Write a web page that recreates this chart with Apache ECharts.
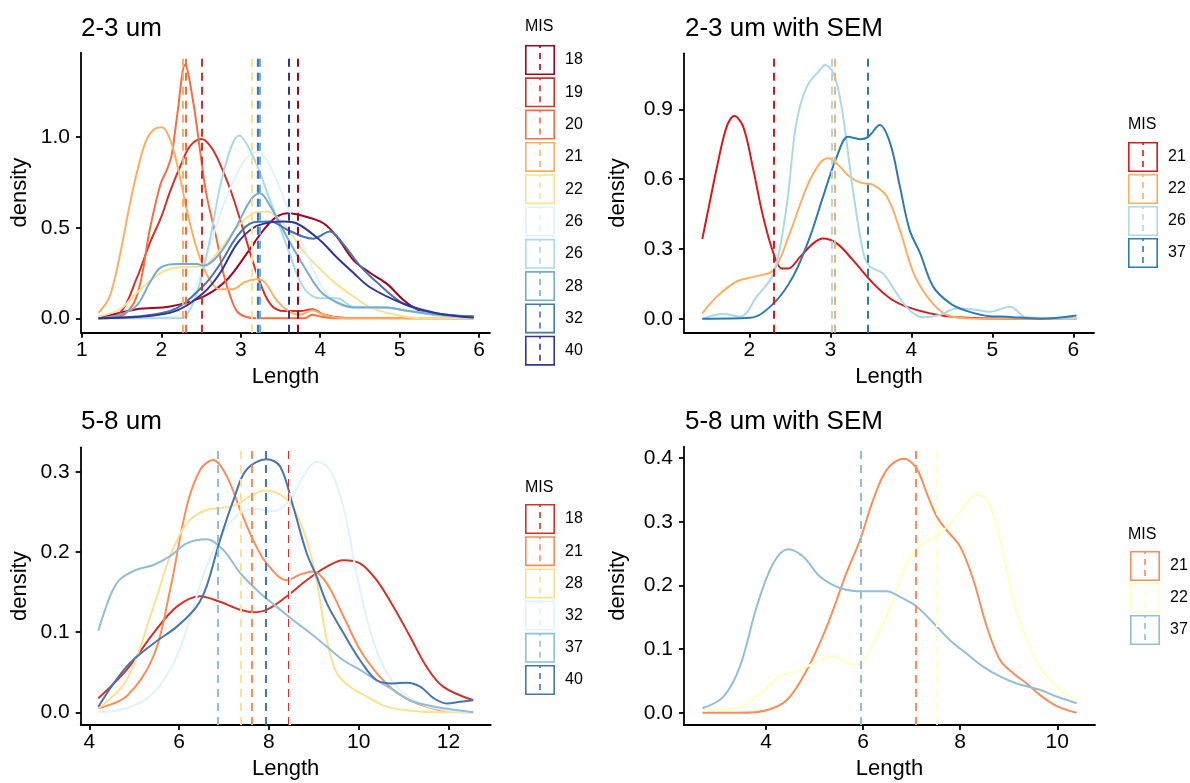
<!DOCTYPE html>
<html><head><meta charset="utf-8">
<script src="https://cdn.jsdelivr.net/npm/echarts@6.0.0/dist/echarts.min.js"></script>
<style>html,body{margin:0;padding:0;background:#fff}#c{width:1190px;height:783px}</style>
</head><body><div id="c"></div>
<script>
// ---------------- DATA ----------------
// Panel A: 2-3 um
const A_groups = ['18','19','20','21','22','26','26','28','32','40'];
const A_means  = [3.72, 2.51, 2.31, 2.27, 3.14, 3.20, 3.22, 3.24, 3.22, 3.60];
const A_18 = [[1.21,0],[1.69,0.05],[2.11,0.065],[2.53,0.12],[2.82,0.21],[3.08,0.36],[3.29,0.49],[3.45,0.56],[3.6,0.58],[3.79,0.565],[4.04,0.525],[4.21,0.45],[4.42,0.32],[4.63,0.25],[4.84,0.19],[5.05,0.10],[5.26,0.04],[5.46,0.02],[5.93,0.01]];
const A_19 = [[1.21,0],[1.48,0.03],[1.69,0.22],[1.86,0.42],[2.0,0.56],[2.11,0.7],[2.24,0.84],[2.36,0.95],[2.51,0.99],[2.62,0.95],[2.70,0.89],[2.87,0.71],[3.03,0.49],[3.2,0.25],[3.37,0.08],[3.55,0.04],[3.75,0.04],[3.9,0.05],[4.05,0.02],[4.3,0.003],[5.93,0]];
const A_20 = [[1.21,0],[1.48,0.01],[1.69,0.12],[1.86,0.5],[1.99,0.74],[2.07,0.82],[2.13,0.9],[2.2,1.12],[2.3,1.40],[2.4,1.2],[2.49,0.92],[2.57,0.68],[2.70,0.43],[2.78,0.25],[2.87,0.12],[2.95,0.04],[3.05,0.01],[3.2,0],[3.8,0],[3.9,0.02],[4.0,0.01],[4.2,0],[5.93,0]];
const A_21 = [[1.21,0.03],[1.35,0.12],[1.48,0.35],[1.6,0.62],[1.69,0.8],[1.80,0.97],[1.9,1.04],[2.01,1.055],[2.1,1.0],[2.2,0.85],[2.32,0.6],[2.45,0.38],[2.6,0.22],[2.74,0.16],[2.9,0.16],[3.05,0.2],[3.2,0.215],[3.3,0.2],[3.45,0.1],[3.6,0.04],[3.75,0.02],[3.9,0.045],[4.04,0.02],[4.2,0.005],[4.5,0],[5.93,0]];
const A_22 = [[1.21,0.01],[1.48,0.05],[1.69,0.14],[1.99,0.25],[2.2,0.28],[2.53,0.29],[2.74,0.38],[2.95,0.5],[3.16,0.58],[3.33,0.59],[3.54,0.52],[3.79,0.37],[4.0,0.27],[4.2,0.19],[4.42,0.12],[4.63,0.06],[4.84,0.03],[5.05,0.01],[5.3,0],[5.93,0]];
const A_26a = [[1.21,0],[2.0,0.005],[2.25,0.02],[2.36,0.08],[2.61,0.40],[2.82,0.67],[3.03,0.86],[3.2,0.92],[3.37,0.84],[3.58,0.62],[3.79,0.40],[4.0,0.19],[4.21,0.08],[4.42,0.06],[4.63,0.06],[5.05,0.045],[5.5,0.02],[5.93,0.01]];
const A_26b = [[1.21,0],[2.2,0],[2.3,0.01],[2.45,0.14],[2.61,0.43],[2.78,0.80],[2.98,1.01],[3.16,0.89],[3.37,0.65],[3.58,0.40],[3.79,0.17],[4.0,0.11],[4.21,0.11],[4.42,0.064],[4.84,0.06],[5.05,0.045],[5.5,0.015],[5.93,0]];
const A_28 = [[1.21,0],[1.48,0.02],[1.69,0.07],[1.86,0.2],[1.99,0.28],[2.2,0.30],[2.45,0.30],[2.53,0.29],[2.74,0.36],[2.95,0.51],[3.12,0.65],[3.24,0.69],[3.37,0.62],[3.58,0.45],[3.79,0.29],[4.0,0.15],[4.2,0.09],[4.42,0.06],[4.84,0.06],[5.05,0.045],[5.5,0.02],[5.93,0.01]];
const A_32 = [[1.21,0],[2.11,0.04],[2.53,0.18],[2.74,0.3],[2.95,0.45],[3.16,0.53],[3.37,0.535],[3.58,0.49],[3.79,0.45],[3.91,0.44],[4.12,0.48],[4.29,0.41],[4.5,0.29],[4.71,0.2],[5.05,0.08],[5.46,0.028],[5.93,0.01]];
const A_40 = [[1.21,0],[2.11,0.03],[2.53,0.14],[2.74,0.25],[2.95,0.41],[3.16,0.5],[3.37,0.53],[3.54,0.535],[3.7,0.525],[4.0,0.43],[4.2,0.34],[4.42,0.25],[4.63,0.17],[5.05,0.08],[5.46,0.028],[5.93,0.004]];
const A_curves = [A_18, A_19, A_20, A_21, A_22, A_26a, A_26b, A_28, A_32, A_40];
const A_xTicks = [1, 2, 3, 4, 5, 6];
const A_yTicks = [0, 0.5, 1.0];

// Panel B: 2-3 um with SEM
const B_groups = ['21','22','26','37'];
const B_means  = [2.30, 3.06, 3.02, 3.46];
const B_21 = [[1.42,0.343],[1.50,0.48],[1.60,0.65],[1.72,0.825],[1.815,0.871],[1.926,0.825],[2.05,0.64],[2.17,0.44],[2.30,0.28],[2.40,0.216],[2.48,0.216],[2.63,0.267],[2.79,0.324],[2.91,0.345],[3.08,0.324],[3.28,0.252],[3.53,0.152],[3.74,0.087],[3.94,0.052],[4.23,0.023],[4.56,0.006],[5.18,0],[6.04,0]];
const B_22 = [[1.42,0.023],[1.60,0.095],[1.84,0.159],[2.09,0.183],[2.30,0.209],[2.50,0.367],[2.71,0.567],[2.87,0.668],[2.975,0.69],[3.12,0.653],[3.24,0.61],[3.37,0.585],[3.53,0.575],[3.70,0.524],[3.86,0.381],[4.03,0.195],[4.23,0.080],[4.44,0.016],[4.77,0.001],[6.04,0]];
const B_26 = [[1.42,0],[1.68,0.02],[1.89,0.009],[2.09,0.095],[2.30,0.195],[2.46,0.482],[2.58,0.84],[2.71,0.997],[2.87,1.069],[2.934,1.091],[3.04,1.055],[3.14,0.911],[3.28,0.553],[3.41,0.281],[3.49,0.224],[3.65,0.195],[3.82,0.109],[3.98,0.037],[4.15,0.006],[4.35,0.016],[4.56,0.044],[4.77,0.04],[4.97,0.030],[5.22,0.052],[5.42,0.006],[6.04,0]];
const B_37 = [[1.42,0],[2.01,0.004],[2.30,0.066],[2.54,0.181],[2.75,0.353],[2.91,0.524],[3.08,0.696],[3.22,0.782],[3.37,0.772],[3.47,0.782],[3.61,0.833],[3.74,0.754],[3.86,0.567],[3.98,0.381],[4.11,0.281],[4.27,0.138],[4.48,0.066],[4.68,0.034],[4.97,0.011],[5.18,0.009],[5.59,0],[6.04,0.014]];
const B_curves = [B_21, B_22, B_26, B_37];
const B_xTicks = [2, 3, 4, 5, 6];
const B_yTicks = [0, 0.3, 0.6, 0.9];

// Panel C: 5-8 um
const C_groups = ['18','21','28','32','37','40'];
const C_means  = [8.45, 7.62, 7.38, 8.47, 6.86, 7.93];
const C_18 = [[4.2,0.0175],[4.83,0.053],[5.43,0.099],[5.95,0.132],[6.46,0.145],[6.91,0.138],[7.36,0.128],[7.65,0.125],[7.95,0.128],[8.40,0.145],[8.84,0.165],[9.29,0.182],[9.66,0.19],[10.03,0.186],[10.40,0.165],[10.77,0.132],[11.14,0.095],[11.51,0.057],[11.88,0.032],[12.55,0.015]];
const C_21 = [[4.2,0.005],[4.83,0.02],[5.43,0.07],[5.80,0.153],[6.17,0.257],[6.47,0.303],[6.76,0.315],[7.06,0.295],[7.36,0.253],[7.65,0.215],[7.95,0.186],[8.40,0.165],[8.69,0.172],[8.99,0.176],[9.29,0.161],[9.66,0.120],[10.03,0.078],[10.40,0.049],[10.77,0.028],[11.14,0.015],[11.51,0.007],[11.88,0.002],[12.55,0]];
const C_28 = [[4.2,0.005],[4.83,0.04],[5.43,0.132],[5.80,0.195],[6.17,0.236],[6.61,0.253],[6.91,0.255],[7.28,0.259],[7.58,0.270],[7.91,0.277],[8.25,0.272],[8.54,0.256],[8.84,0.215],[9.06,0.165],[9.29,0.09],[9.51,0.049],[9.80,0.032],[10.17,0.02],[10.62,0.007],[11.14,0.002],[11.88,0],[12.55,0]];
const C_32 = [[4.2,0],[4.83,0.005],[5.43,0.024],[5.95,0.070],[6.32,0.132],[6.61,0.182],[6.98,0.224],[7.36,0.249],[7.73,0.254],[8.10,0.251],[8.47,0.265],[8.77,0.295],[9.06,0.313],[9.36,0.303],[9.66,0.256],[9.95,0.174],[10.25,0.103],[10.55,0.057],[10.92,0.028],[11.37,0.011],[11.88,0.003],[12.55,0]];
const C_37 = [[4.2,0.102],[4.35,0.128],[4.50,0.150],[4.68,0.166],[5.05,0.178],[5.43,0.184],[5.80,0.195],[6.17,0.211],[6.61,0.216],[6.98,0.203],[7.36,0.174],[7.80,0.149],[8.17,0.132],[8.54,0.115],[8.92,0.099],[9.29,0.082],[9.66,0.065],[10.03,0.053],[10.40,0.040],[10.77,0.028],[11.14,0.015],[11.51,0.009],[11.88,0.005],[12.55,0]];
const C_40 = [[4.2,0.007],[4.83,0.057],[5.43,0.086],[5.95,0.107],[6.39,0.132],[6.61,0.157],[6.91,0.215],[7.21,0.265],[7.50,0.303],[7.95,0.316],[8.25,0.307],[8.54,0.257],[8.84,0.199],[9.06,0.170],[9.29,0.136],[9.66,0.099],[10.03,0.065],[10.40,0.040],[10.77,0.036],[11.07,0.037],[11.37,0.032],[11.66,0.018],[11.96,0.011],[12.26,0.013],[12.55,0.015]];
const C_curves = [C_18, C_21, C_28, C_32, C_37, C_40];
const C_xTicks = [4, 6, 8, 10, 12];
const C_yTicks = [0, 0.1, 0.2, 0.3];

// Panel D: 5-8 um with SEM
const D_groups = ['21','22','37'];
const D_means  = [7.09, 7.52, 5.96];
const D_21 = [[2.69,0],[3.46,0],[4.01,0.004],[4.43,0.02],[4.84,0.067],[5.25,0.135],[5.66,0.220],[5.94,0.272],[6.21,0.335],[6.49,0.382],[6.83,0.399],[7.10,0.384],[7.31,0.345],[7.52,0.308],[7.72,0.287],[8.00,0.261],[8.27,0.209],[8.55,0.135],[8.82,0.083],[9.09,0.062],[9.37,0.046],[9.64,0.028],[10.0,0.01],[10.4,0]];
const D_22 = [[2.69,0.007],[3.12,0.004],[3.46,0.009],[3.88,0.03],[4.29,0.057],[4.70,0.067],[5.11,0.083],[5.39,0.089],[5.66,0.078],[5.90,0.075],[6.21,0.109],[6.62,0.177],[6.90,0.235],[7.24,0.266],[7.58,0.282],[7.86,0.303],[8.13,0.329],[8.31,0.342],[8.55,0.335],[8.82,0.272],[9.09,0.177],[9.37,0.114],[9.64,0.072],[10.0,0.04],[10.4,0.02]];
const D_37 = [[2.69,0.007],[3.12,0.025],[3.46,0.072],[3.81,0.167],[4.15,0.235],[4.46,0.257],[4.77,0.245],[5.11,0.214],[5.52,0.196],[5.87,0.191],[6.21,0.191],[6.49,0.191],[6.76,0.182],[7.10,0.167],[7.45,0.141],[7.79,0.114],[8.13,0.093],[8.48,0.072],[8.82,0.057],[9.16,0.046],[9.64,0.036],[10.0,0.025],[10.4,0.015]];
const D_curves = [D_21, D_22, D_37];
const D_xTicks = [4, 6, 8, 10];
const D_yTicks = [0, 0.1, 0.2, 0.3, 0.4];

// ---------------- STYLE ----------------
const A_colors = ['#a50026','#d73027','#f46d43','#fdae61','#fee090','#e0f3f8','#abd9e9','#74add1','#4575b4','#313695'];
const B_colors = ['#d7191c','#fdae61','#abd9e9','#2c7bb6'];
const C_colors = ['#d73027','#fc8d59','#fee090','#e0f3f8','#91bfdb','#4575b4'];
const D_colors = ['#fc8d59','#ffffbf','#91bfdb'];

const FONT = 'Liberation Sans, Arial, Helvetica, sans-serif';
const KEY_ICON = 'path://M0,0H30V30H0Z M1.6,1.6V28.4H28.4V1.6Z M14.2,0H15.8V3H14.2Z M14.2,8H15.8V14H14.2Z M14.2,19H15.8V25H14.2Z M14.2,28.4H15.8V30H14.2Z';

const panels = [
  {key:'A', groups:A_groups, means:A_means, curves:A_curves, colors:A_colors, xTicks:A_xTicks, yTicks:A_yTicks,
   grid:{left:81, top:52.7, width:409, height:280}, xr:[0.99, 6.136], yr:[-0.0796, 1.467], nameGapY:50,
   legend:{left:525, top:45, gap:2.3}},
  {key:'B', groups:B_groups, means:B_means, curves:B_curves, colors:B_colors, xTicks:B_xTicks, yTicks:B_yTicks,
   grid:{left:684, top:53.3, width:410, height:279.4}, xr:[1.194, 6.256], yr:[-0.060, 1.141], nameGapY:55,
   legend:{left:1128, top:142, gap:2}},
  {key:'C', groups:C_groups, means:C_means, curves:C_curves, colors:C_colors, xTicks:C_xTicks, yTicks:C_yTicks,
   grid:{left:80.7, top:447.3, width:410, height:277.7}, xr:[3.808, 12.94], yr:[-0.0159, 0.331], nameGapY:50,
   legend:{left:525, top:504, gap:2.2}},
  {key:'D', groups:D_groups, means:D_means, curves:D_curves, colors:D_colors, xTicks:D_xTicks, yTicks:D_yTicks,
   grid:{left:684, top:446.7, width:411, height:278.3}, xr:[2.311, 10.777], yr:[-0.0193, 0.418], nameGapY:55,
   legend:{left:1130, top:551, gap:2}}
];

const grids = [], xAxes = [], yAxes = [], series = [], legends = [];
const axisLineStyle = {color:'#000', width:1.8};
panels.forEach((p, k) => {
  grids.push(Object.assign({containLabel:false}, p.grid));
  xAxes.push({
    type:'value', gridIndex:k, min:p.xr[0], max:p.xr[1],
    axisLine:{show:true, onZero:false, lineStyle:axisLineStyle},
    axisTick:{show:true, length:5, customValues:p.xTicks, lineStyle:axisLineStyle},
    axisLabel:{customValues:p.xTicks, formatter:v => String(v), fontSize:21, color:'#000', margin:7, fontFamily:FONT},
    splitLine:{show:false},
    name:'Length', nameLocation:'middle', nameGap:33,
    nameTextStyle:{fontSize:22, color:'#000', fontFamily:FONT}
  });
  yAxes.push({
    type:'value', gridIndex:k, min:p.yr[0], max:p.yr[1],
    axisLine:{show:true, onZero:false, lineStyle:axisLineStyle},
    axisTick:{show:true, length:5, customValues:p.yTicks, lineStyle:axisLineStyle},
    axisLabel:{customValues:p.yTicks, formatter:v => v.toFixed(1), fontSize:21, color:'#000', margin:11, fontFamily:FONT},
    splitLine:{show:false},
    name:'density', nameLocation:'middle', nameGap:p.nameGapY, nameRotate:90,
    nameTextStyle:{fontSize:22, color:'#000', fontFamily:FONT}
  });
  const names = [];
  p.groups.forEach((g, i) => {
    const name = p.key + '_' + i + '_' + g;
    names.push(name);
    const col = p.colors[i];
    series.push({
      type:'line', name:name, xAxisIndex:k, yAxisIndex:k,
      data:p.curves[i], showSymbol:false, symbol:'none', smooth:0.35,
      lineStyle:{width:2, color:col}, itemStyle:{color:col},
      emphasis:{disabled:true}, silent:true,
      markLine:{silent:true, symbol:['none','none'], label:{show:false}, animation:false,
        emphasis:{disabled:true},
        lineStyle:{type:[8,6], width:2, color:col}, data:[{xAxis:p.means[i]}]}
    });
  });
  legends.push({
    orient:'vertical', left:p.legend.left, top:p.legend.top, itemWidth:30, itemHeight:30, itemGap:p.legend.gap,
    padding:0, icon:KEY_ICON, selectedMode:false, data:names,
    formatter:n => n.split('_')[2],
    textStyle:{fontSize:16, color:'#000', fontFamily:FONT, padding:[0,0,0,5]},
    itemStyle:{borderWidth:0}
  });
});

const tStyle = (s) => ({fontSize:s, fontWeight:'normal', color:'#000', fontFamily:FONT});
const titles = [
  {text:'2-3 um', left:81, top:15.5, padding:0, textStyle:tStyle(26)},
  {text:'2-3 um with SEM', left:685, top:15.5, padding:0, textStyle:tStyle(26)},
  {text:'5-8 um', left:81, top:409, padding:0, textStyle:tStyle(26)},
  {text:'5-8 um with SEM', left:685, top:409, padding:0, textStyle:tStyle(26)},
  {text:'MIS', left:525, top:19, padding:0, textStyle:tStyle(16)},
  {text:'MIS', left:1128, top:116.5, padding:0, textStyle:tStyle(16)},
  {text:'MIS', left:525, top:479.5, padding:0, textStyle:tStyle(16)},
  {text:'MIS', left:1128, top:527, padding:0, textStyle:tStyle(16)}
];

const chart = echarts.init(document.getElementById('c'), null, {renderer:'canvas'});
chart.setOption({
  backgroundColor:'#fff',
  animation:false,
  title:titles,
  grid:grids, xAxis:xAxes, yAxis:yAxes,
  legend:legends,
  series:series
});
</script></body></html>
